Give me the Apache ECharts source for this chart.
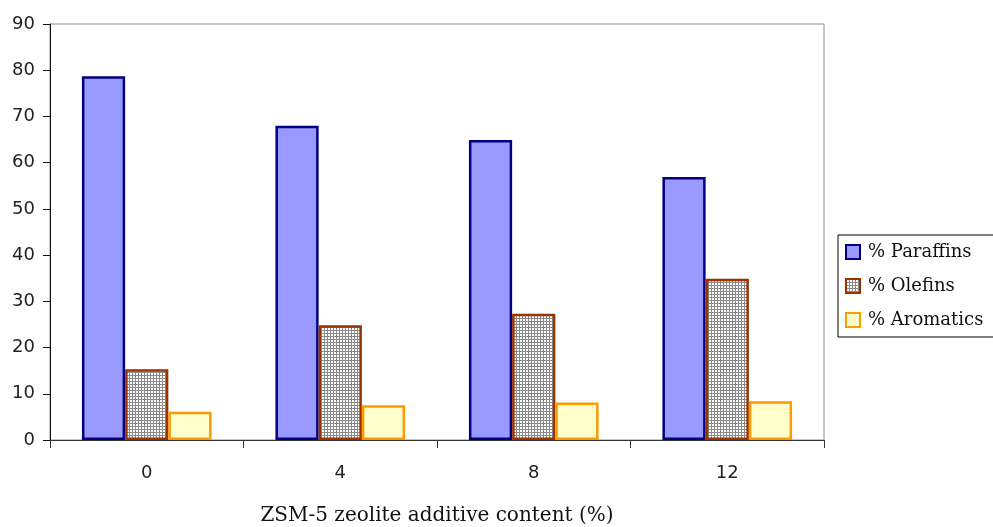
<!DOCTYPE html>
<html>
<head>
<meta charset="utf-8">
<script src="https://cdn.jsdelivr.net/npm/echarts@6/dist/echarts.min.js"></script>
<style>
  html, body { margin: 0; padding: 0; background: #fff; }
  #chart { width: 993px; height: 527px; }
</style>
</head>
<body>
<div id="chart"></div>
<script>
// ZSM-5 additive content (%) on the x axis
const categories = ['0', '4', '8', '12'];

// Product distribution (%) per additive level
const paraffins = [78.7, 68.0, 64.9, 56.9];
const olefins = [15.3, 24.8, 27.3, 34.9];
const aromatics = [6.1, 7.5, 8.1, 8.4];

const seriesNames = ['% Paraffins', '% Olefins', '% Aromatics'];
const xAxisTitle = 'ZSM-5 zeolite additive content (%)';

// Small grey cross-hatch tile for the olefins fill
function makeHatch() {
  const c = document.createElement('canvas');
  c.width = 3; c.height = 3;
  const g = c.getContext('2d');
  g.fillStyle = '#ffffff';
  g.fillRect(0, 0, 3, 3);
  g.fillStyle = '#8a8a8a';
  g.fillRect(0, 0, 3, 1);
  g.fillRect(0, 0, 1, 3);
  return c;
}

const chart = echarts.init(document.getElementById('chart'), null, { renderer: 'canvas' });

const sansFont = 'DejaVu Sans';
const serifFont = 'DejaVu Serif';

chart.setOption({
  animation: false,
  backgroundColor: '#ffffff',
  grid: {
    left: 50, right: 169, top: 24, bottom: 87,
    outerBoundsMode: 'none',
    containLabel: false,
    show: true, borderColor: '#8c8c8c', borderWidth: 1, backgroundColor: 'transparent'
  },
  legend: {
    orient: 'vertical',
    left: 838, top: 235,
    padding: [8, 14, 8, 7],
    itemWidth: 14, itemHeight: 14, itemGap: 16,
    borderColor: '#000', borderWidth: 1,
    icon: 'rect',
    textStyle: { fontFamily: serifFont, fontSize: 18, color: '#111', lineHeight: 17, padding: [0, 0, 0, 3] },
    data: seriesNames
  },
  xAxis: {
    type: 'category',
    data: categories,
    axisLine: { lineStyle: { color: '#333', width: 1 } },
    axisTick: { show: true, alignWithLabel: false, length: 8, lineStyle: { color: '#333' } },
    axisLabel: { fontFamily: sansFont, fontSize: 18, color: '#222', margin: 24 },
    name: xAxisTitle,
    nameLocation: 'middle',
    nameGap: 66,
    nameTextStyle: { fontFamily: serifFont, fontSize: 20, color: '#111' }
  },
  yAxis: {
    type: 'value',
    min: 0, max: 90, interval: 10,
    axisLine: { show: true, lineStyle: { color: '#111', width: 1 } },
    axisTick: { show: true, length: 7, lineStyle: { color: '#111' } },
    axisLabel: { fontFamily: sansFont, fontSize: 18, color: '#222', margin: 15 },
    splitLine: { show: false }
  },
  series: [
    {
      name: seriesNames[0], type: 'bar', data: paraffins,
      barGap: '0%', barCategoryGap: '33%',
      itemStyle: { color: '#9999ff', borderColor: '#000080', borderWidth: 2.5 }
    },
    {
      name: seriesNames[1], type: 'bar', data: olefins,
      barGap: '0%', barCategoryGap: '33%',
      itemStyle: { color: { image: makeHatch(), repeat: 'repeat' }, borderColor: '#993300', borderWidth: 2.5 }
    },
    {
      name: seriesNames[2], type: 'bar', data: aromatics,
      barGap: '0%', barCategoryGap: '33%',
      itemStyle: { color: '#ffffcc', borderColor: '#ff9900', borderWidth: 2.5 }
    }
  ]
});
</script>
</body>
</html>
